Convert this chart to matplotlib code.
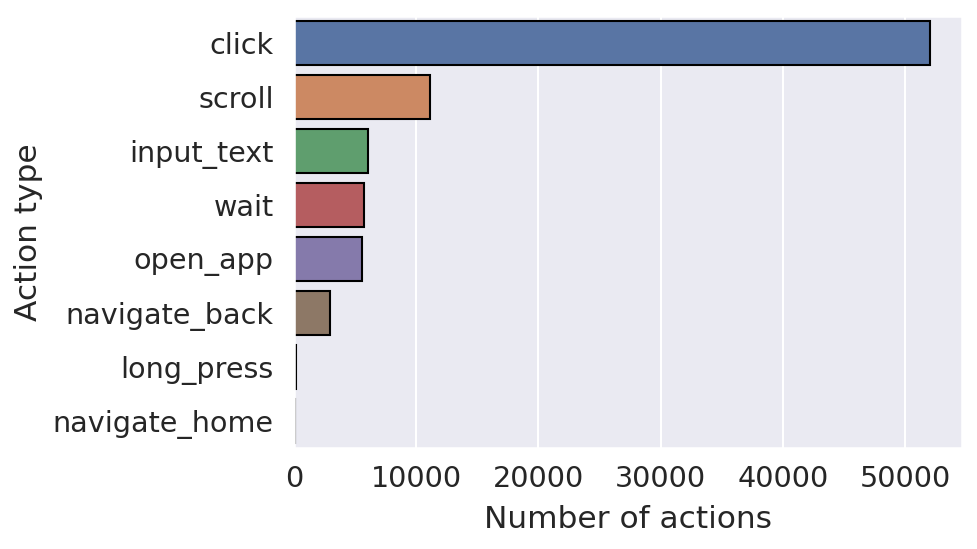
import matplotlib
matplotlib.use("Agg")
import matplotlib.pyplot as plt
import seaborn as sns

actions = ["click", "scroll", "input_text", "wait", "open_app",
           "navigate_back", "long_press", "navigate_home"]
counts = [52050, 11100, 6050, 5750, 5600, 2950, 150, 60]

sns.set_theme(style="darkgrid", context="talk", font_scale=1.25)

fig = plt.figure(figsize=(9.77, 5.49), dpi=100)
ax = fig.add_axes([294 / 977, 1 - 448 / 549, (962 - 294) / 977, (448 - 16) / 549])

sns.barplot(x=counts, y=actions, hue=actions, palette="deep", legend=False,
            edgecolor="black", linewidth=1.5, ax=ax)
ax.tick_params(axis="y", pad=5.5)
ax.set_xlabel("Number of actions", labelpad=8.5)
ax.set_ylabel("Action type", labelpad=7)

fig.savefig("out.png", dpi=100)
